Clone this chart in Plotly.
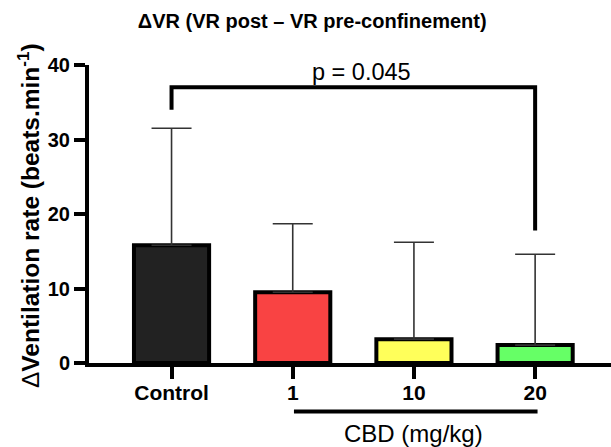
import plotly.graph_objects as go

categories = ["Control", "1", "10", "20"]
means = [15.8, 9.5, 3.2, 2.4]
err_upper = [15.7, 9.2, 13.0, 12.2]
colors = ["#222222", "#F94343", "#FFFF5A", "#66FF66"]
y_ticks = [0, 10, 20, 30, 40]

FONT = "Liberation Sans, Arial, sans-serif"
xpos = list(range(len(categories)))

fig = go.Figure()
fig.add_trace(go.Bar(
    x=xpos, y=means, width=0.62,
    marker=dict(color=colors, line=dict(color="black", width=4)),
    error_y=dict(type="data", array=err_upper, arrayminus=[0] * len(means),
                 symmetric=False, color="#333333", thickness=1.6, width=20),
    showlegend=False, hoverinfo="skip",
))

# significance bracket Control vs 20
fig.add_shape(type="path", xref="x", yref="y",
              path="M 0 34.0 L 0 37.0 L 3 37.0 L 3 17.8",
              line=dict(color="black", width=4))
fig.add_annotation(x=1.57, y=39.0, xref="x", yref="y", text="p = 0.045",
                   showarrow=False, font=dict(family=FONT, size=23.5, color="black"))

# CBD group line
fig.add_shape(type="line", xref="x", yref="paper", x0=1.01, x1=3.02,
              y0=-0.163, y1=-0.163, line=dict(color="black", width=4))
fig.add_annotation(x=2.0, y=-0.235, xref="x", yref="paper", text="CBD (mg/kg)",
                   showarrow=False, yanchor="middle",
                   font=dict(family=FONT, size=24, color="black"))

# y title
fig.add_annotation(x=0, y=0.5, xref="paper", yref="paper", xshift=-61, yshift=-2,
                   text="Δ<b>Ventilation rate (beats.min<sup>-1</sup>)</b>",
                   textangle=-90, showarrow=False, xanchor="center", yanchor="middle",
                   font=dict(family=FONT, size=24.5, color="black"))

fig.update_layout(
    width=611, height=447,
    margin=dict(l=89, r=0, t=65, b=84),
    paper_bgcolor="white", plot_bgcolor="white",
    title=dict(text="<b>ΔVR (VR post – VR pre-confinement)</b>", x=0.511, xanchor="center",
               y=1 - 21 / 447, yanchor="middle",
               font=dict(family=FONT, size=20, color="black")),
    font=dict(family=FONT, color="black"),
)
fig.update_xaxes(range=[-0.681, 3.626], tickvals=xpos,
                 ticktext=["<b>%s</b>" % c for c in categories],
                 showline=True, linecolor="black", linewidth=4,
                 ticks="outside", ticklen=12, tickwidth=4, tickcolor="black",
                 ticklabelstandoff=-4,
                 tickfont=dict(family=FONT, size=21, color="black"),
                 showgrid=False, zeroline=False)
fig.update_yaxes(range=[0, 40], tickvals=y_ticks,
                 ticktext=["<b>%d</b>" % v for v in y_ticks],
                 showline=True, linecolor="black", linewidth=4,
                 ticks="outside", ticklen=11, tickwidth=4, tickcolor="black",
                 tickfont=dict(family=FONT, size=20, color="black"),
                 showgrid=False, zeroline=False)

fig.write_html("out.html", config={"displayModeBar": False},
               post_script="document.body.style.margin='0';")
